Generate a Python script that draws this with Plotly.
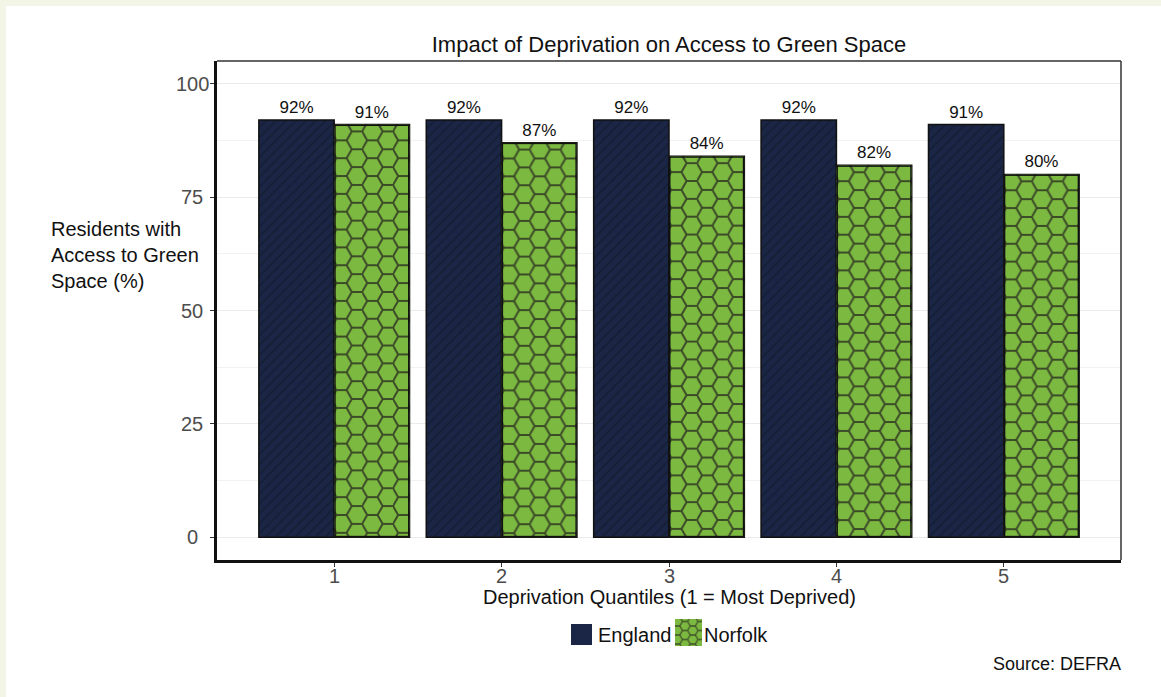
import base64
import plotly.graph_objects as go

# Data
quantiles = [1, 2, 3, 4, 5]
england = [92, 92, 92, 92, 91]
norfolk = [91, 87, 84, 82, 80]
england_labels = ["92%", "92%", "92%", "92%", "91%"]
norfolk_labels = ["91%", "87%", "84%", "82%", "80%"]
y_ticks = [0, 25, 50, 75, 100]

# Styling
W, H = 1161, 697
M_L, M_R, M_T, M_B = 217, 40, 61, 137
X_RANGE = [0.3, 5.7]
Y_RANGE = [-5, 105]
NAVY = "#1b2646"
NAVY_STRIPE = "#111829"
GREEN = "#7cb940"
HEX_LINE = "#3b4a27"
CREAM = "#f3f6e7"
TICK_GREY = "#4d4d4d"
FONT = "Liberation Sans, Arial, sans-serif"
BAR_W = 0.45

plot_w = W - M_L - M_R
plot_h = H - M_T - M_B
px_x = plot_w / (X_RANGE[1] - X_RANGE[0])
px_y = plot_h / (Y_RANGE[1] - Y_RANGE[0])


def hex_svg(w, h, r=10.3, stroke=2.0, border=True):
    """Flat-topped hexagon lattice filling a w x h box."""
    hh = r * 3 ** 0.5 / 2
    tw, th = 3 * r, 2 * hh
    path = (f"M0,{hh} L{r/2},0 L{1.5*r},0 L{2*r},{hh} L{1.5*r},{th} "
            f"L{r/2},{th} Z M{2*r},{hh} L{3*r},{hh}")
    edge = (f'<rect x="0.75" y="0.75" width="{w-1.5}" height="{h-1.5}" fill="none" '
            f'stroke="#111" stroke-width="1.5"/>') if border else ""
    svg = (f'<svg xmlns="http://www.w3.org/2000/svg" width="{w}" height="{h}" '
           f'viewBox="0 0 {w} {h}" preserveAspectRatio="none">'
           f'<defs><pattern id="hx" width="{tw}" height="{th}" patternUnits="userSpaceOnUse" '
           f'x="-3" y="-2">'
           f'<rect width="{tw}" height="{th}" fill="{GREEN}"/>'
           f'<path d="{path}" fill="none" stroke="{HEX_LINE}" stroke-width="{stroke}"/>'
           f'</pattern></defs>'
           f'<rect width="{w}" height="{h}" fill="url(#hx)"/>{edge}</svg>')
    return "data:image/svg+xml;base64," + base64.b64encode(svg.encode()).decode()


fig = go.Figure()

fig.add_trace(go.Bar(
    x=quantiles, y=england, name="England",
    text=england_labels, textposition="outside",
    textfont=dict(size=17, color="#111", family=FONT),
    marker=dict(color=NAVY, line=dict(color="#111", width=1.5),
                pattern=dict(shape="/", bgcolor=NAVY, fgcolor=NAVY_STRIPE,
                             size=7, solidity=0.3)),
    cliponaxis=False, showlegend=False,
))
fig.add_trace(go.Bar(
    x=quantiles, y=norfolk, name="Norfolk",
    text=norfolk_labels, textposition="outside",
    textfont=dict(size=17, color="#111", family=FONT),
    marker=dict(color=GREEN, line=dict(color="#111", width=1.5)),
    cliponaxis=False, showlegend=False,
))

# Hexagon fill laid over each Norfolk bar
images = []
for q, v in zip(quantiles, norfolk):
    images.append(dict(
        source=hex_svg(BAR_W * px_x, v * px_y),
        xref="x", yref="y", x=q, y=v, sizex=BAR_W, sizey=v,
        xanchor="left", yanchor="top", sizing="stretch", layer="above",
    ))


def px_to_paper(px, py):
    return (px - M_L) / plot_w, (H - M_B - py) / plot_h


# Legend (drawn by hand so the Norfolk key carries the hexagon fill)
lx0, ly0 = px_to_paper(571, 624)
lx1, ly1 = px_to_paper(592, 645)
nx0, ny0 = px_to_paper(675, 619)
nx1, ny1 = px_to_paper(702, 646)
images.append(dict(
    source=hex_svg(27, 27, r=5.2, stroke=1.2, border=False),
    xref="paper", yref="paper", x=nx0, y=ny0, sizex=nx1 - nx0, sizey=ny0 - ny1,
    xanchor="left", yanchor="top", sizing="stretch", layer="above",
))

wx0, wy1 = px_to_paper(6, 6)
wx1, wy0 = px_to_paper(W, H)
shapes = [
    dict(type="rect", xref="paper", yref="paper", x0=wx0, x1=wx1, y0=wy0, y1=wy1,
         fillcolor="white", line=dict(width=0), layer="below"),
    dict(type="line", xref="paper", yref="paper", x0=0, x1=1, y0=1, y1=1,
         line=dict(color="#333", width=1.5)),
    dict(type="line", xref="paper", yref="paper", x0=1, x1=1, y0=0, y1=1,
         line=dict(color="#333", width=1.5)),
    dict(type="rect", xref="paper", yref="paper", x0=lx0, x1=lx1, y0=ly1, y1=ly0,
         fillcolor=NAVY, line=dict(width=0)),
]

annotations = [
    dict(text="Residents with<br>Access to Green<br>Space (%)", xref="paper", yref="paper",
         x=px_to_paper(49, 0)[0], y=px_to_paper(0, 255)[1], xanchor="left", yanchor="middle",
         align="left", showarrow=False, font=dict(size=20, color="#111", family=FONT)),
    dict(text="Deprivation Quantiles (1 = Most Deprived)", xref="paper", yref="paper",
         x=0.5, y=px_to_paper(0, 597)[1], xanchor="center", yanchor="middle",
         showarrow=False, font=dict(size=20, color="#111", family=FONT)),
    dict(text="England", xref="paper", yref="paper", x=px_to_paper(596, 0)[0],
         y=px_to_paper(0, 635)[1], xanchor="left", yanchor="middle", showarrow=False,
         font=dict(size=20, color="#111", family=FONT)),
    dict(text="Norfolk", xref="paper", yref="paper", x=px_to_paper(702, 0)[0],
         y=px_to_paper(0, 635)[1], xanchor="left", yanchor="middle", showarrow=False,
         font=dict(size=20, color="#111", family=FONT)),
    dict(text="Source: DEFRA", xref="paper", yref="paper", x=px_to_paper(1123, 0)[0],
         y=px_to_paper(0, 664)[1], xanchor="right", yanchor="middle", showarrow=False,
         font=dict(size=18, color="#111", family=FONT)),
]

# Centre-aligned y tick labels
for t in y_ticks:
    annotations.append(dict(
        text=str(t), xref="paper", yref="y", x=px_to_paper(192, 0)[0], y=t,
        xanchor="center", yanchor="middle", showarrow=False,
        font=dict(size=20, color=TICK_GREY, family=FONT)))

# x tick labels sit just under the axis line
for q in quantiles:
    annotations.append(dict(
        text=str(q), xref="x", yref="paper", x=q, y=px_to_paper(0, 576)[1],
        xanchor="center", yanchor="middle", showarrow=False,
        font=dict(size=20, color=TICK_GREY, family=FONT)))

fig.update_layout(
    width=W, height=H,
    margin=dict(l=M_L, r=M_R, t=M_T, b=M_B, pad=0),
    paper_bgcolor=CREAM, plot_bgcolor="white",
    barmode="group", bargap=0.1, bargroupgap=0,
    showlegend=False,
    font=dict(family=FONT, color="#111"),
    title=dict(text="Impact of Deprivation on Access to Green Space",
               x=(M_L + plot_w / 2) / W, xanchor="center",
               y=1 - 44 / H, yanchor="middle",
               font=dict(size=22, color="#111", family=FONT)),
    xaxis=dict(range=X_RANGE, tickmode="array", tickvals=quantiles,
               showticklabels=False,
               showgrid=False, zeroline=False,
               showline=True, linecolor="#111", linewidth=3,
               ticks="outside", ticklen=4, tickcolor="#333", tickwidth=1),
    yaxis=dict(range=Y_RANGE, tickmode="array", tickvals=y_ticks,
               showticklabels=False,
               showgrid=True, gridcolor="#ebebeb", gridwidth=1, zeroline=False,
               minor=dict(tickvals=[12.5, 37.5, 62.5, 87.5], showgrid=True,
                          gridcolor="#f2f2f2", gridwidth=1, ticks=""),
               showline=True, linecolor="#111", linewidth=3,
               ticks="outside", ticklen=4, tickcolor="#333", tickwidth=1),
    images=images, shapes=shapes, annotations=annotations,
)

fig.write_html("out.html")
